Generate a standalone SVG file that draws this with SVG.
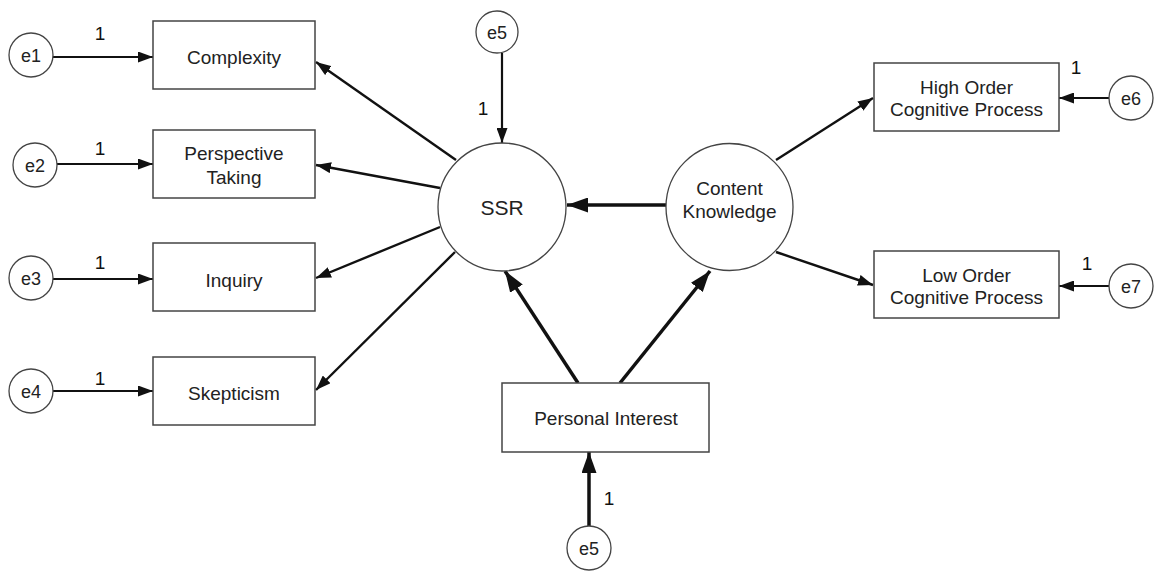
<svg xmlns="http://www.w3.org/2000/svg" width="1156" height="571" viewBox="0 0 1156 571">
<style>
.box{fill:#fff;stroke:#444;stroke-width:1.5}
.circ{fill:#fff;stroke:#444;stroke-width:1.3}
.t{font-family:"Liberation Sans",Arial,sans-serif;font-size:19px;fill:#222;text-anchor:middle}
.e{font-family:"Liberation Sans",Arial,sans-serif;font-size:18px;fill:#222;text-anchor:middle}
.n{font-family:"Liberation Sans",Arial,sans-serif;font-size:19px;fill:#111;text-anchor:middle}
.a1{stroke:#111;stroke-width:2.2;fill:none;marker-end:url(#ah)}
.a2{stroke:#111;stroke-width:2.4;fill:none;marker-end:url(#ah)}
.a3{stroke:#111;stroke-width:3.5;fill:none;marker-end:url(#ahb)}
</style>
<defs>
<marker id="ah" markerUnits="userSpaceOnUse" markerWidth="15" markerHeight="11" refX="15" refY="5.5" orient="auto">
<path d="M0,0 L15,5.5 L0,11 z" fill="#111"/>
</marker>
<marker id="ahb" markerUnits="userSpaceOnUse" markerWidth="21" markerHeight="15" refX="21" refY="7.5" orient="auto">
<path d="M0,0 L21,7.5 L0,15 z" fill="#111"/>
</marker>
</defs>
<rect width="1156" height="571" fill="#fff"/>

<g id="connectors">
<line class="a1" x1="53" y1="57" x2="153" y2="57"/>
<line class="a1" x1="57" y1="164" x2="153" y2="164"/>
<line class="a1" x1="53" y1="279" x2="153" y2="279"/>
<line class="a1" x1="53" y1="391" x2="153" y2="391"/>
<line class="a1" x1="502" y1="53" x2="502" y2="143"/>
<line class="a1" x1="1109" y1="98" x2="1059" y2="98"/>
<line class="a1" x1="1109" y1="286" x2="1059" y2="286"/>
<line class="a2" x1="456" y1="160" x2="316" y2="62"/>
<line class="a2" x1="440" y1="188" x2="316" y2="165"/>
<line class="a2" x1="440" y1="227" x2="316" y2="278"/>
<line class="a2" x1="455" y1="252" x2="316" y2="390"/>
<line class="a2" x1="776" y1="160" x2="873" y2="98"/>
<line class="a2" x1="776" y1="252" x2="873" y2="285"/>
<line class="a3" x1="666" y1="205" x2="567" y2="205"/>
<line class="a3" x1="578" y1="383" x2="505" y2="271"/>
<line class="a3" x1="620" y1="383" x2="710" y2="271"/>
<line class="a3" x1="589" y1="526" x2="589" y2="452"/>
</g>

<g id="e1"><circle class="circ" cx="31" cy="55" r="22"/><text class="e" x="31" y="61.5">e1</text></g>
<g id="e2"><circle class="circ" cx="35" cy="165" r="22"/><text class="e" x="35" y="171.5">e2</text></g>
<g id="e3"><circle class="circ" cx="31" cy="278" r="22"/><text class="e" x="31" y="284.5">e3</text></g>
<g id="e4"><circle class="circ" cx="31" cy="391" r="22"/><text class="e" x="31" y="397.5">e4</text></g>
<g id="e5-top"><circle class="circ" cx="497" cy="32" r="21"/><text class="e" x="497" y="38.5">e5</text></g>
<g id="e6"><circle class="circ" cx="1131" cy="98" r="22"/><text class="e" x="1131" y="104.5">e6</text></g>
<g id="e7"><circle class="circ" cx="1131" cy="286" r="22"/><text class="e" x="1131" y="292.5">e7</text></g>
<g id="e5-bottom"><circle class="circ" cx="589" cy="548" r="22"/><text class="e" x="589" y="554.5">e5</text></g>

<g id="complexity"><rect class="box" x="153" y="21" width="162" height="68"/><text class="t" x="234" y="64">Complexity</text></g>
<g id="perspective"><rect class="box" x="153" y="130" width="162" height="68"/><text class="t" x="234" y="160">Perspective</text><text class="t" x="234" y="184">Taking</text></g>
<g id="inquiry"><rect class="box" x="153" y="243" width="162" height="68"/><text class="t" x="234" y="287">Inquiry</text></g>
<g id="skepticism"><rect class="box" x="153" y="357" width="162" height="68"/><text class="t" x="234" y="400">Skepticism</text></g>

<g id="ssr"><circle class="circ" cx="502" cy="207" r="64"/><text class="t" x="502" y="214.5" style="font-size:21px">SSR</text></g>
<g id="content-knowledge"><circle class="circ" cx="729.5" cy="207" r="63.5"/><text class="t" x="729.5" y="195">Content</text><text class="t" x="729.5" y="218">Knowledge</text></g>

<g id="high-order"><rect class="box" x="874" y="63" width="185" height="68"/><text class="t" x="966.5" y="94">High Order</text><text class="t" x="966.5" y="116">Cognitive Process</text></g>
<g id="low-order"><rect class="box" x="874" y="251" width="185" height="67"/><text class="t" x="966.5" y="282">Low Order</text><text class="t" x="966.5" y="304">Cognitive Process</text></g>

<g id="personal-interest"><rect class="box" x="502" y="383" width="207" height="69"/><text class="t" x="606" y="425">Personal Interest</text></g>

<g id="labels">
<text class="n" x="100" y="40">1</text>
<text class="n" x="100" y="155">1</text>
<text class="n" x="100" y="269">1</text>
<text class="n" x="100" y="385">1</text>
<text class="n" x="483" y="115">1</text>
<text class="n" x="1076" y="74">1</text>
<text class="n" x="1087" y="270">1</text>
<text class="n" x="609" y="505">1</text>
</g>
</svg>
